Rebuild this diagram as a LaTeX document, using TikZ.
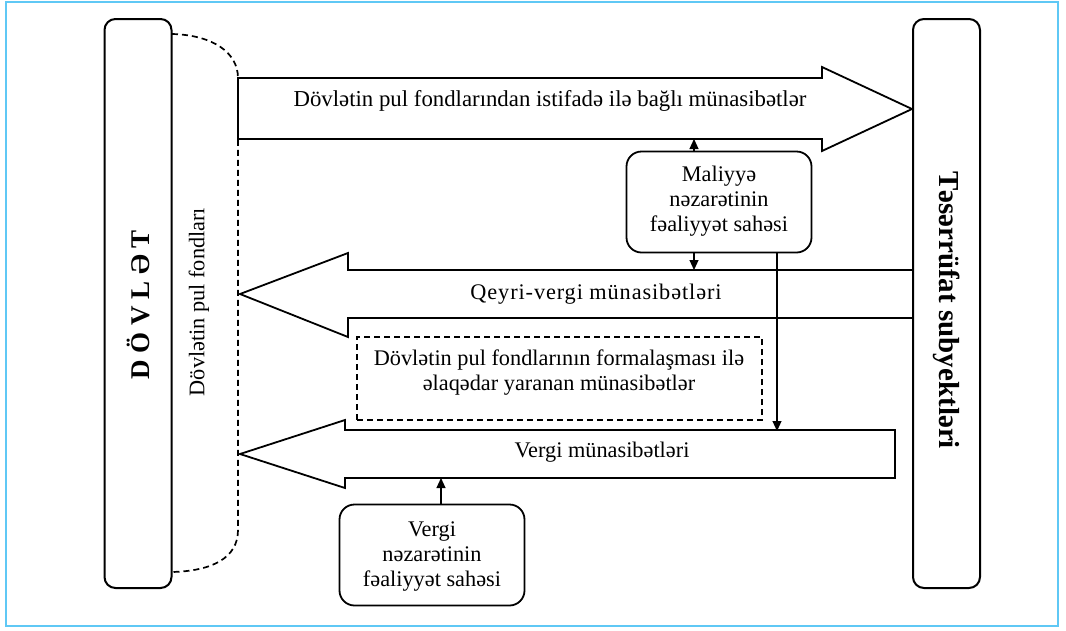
\documentclass[tikz,border=0pt]{standalone}
\usepackage{fontspec}
\setmainfont{Liberation Serif}
\usetikzlibrary{arrows.meta}
\definecolor{framec}{RGB}{95,200,245}
\begin{document}
\begin{tikzpicture}[x=1pt,y=-1pt,
  txt/.style={font=\fontsize{22.3}{25}\selectfont, align=center, inner sep=0pt},
  bold/.style={font=\fontsize{27}{30}\selectfont\bfseries, inner sep=0pt},
  sidebox/.style={draw, line width=2pt, rounded corners=11pt, inner sep=0pt, minimum width=67pt, minimum height=569pt},
  ctrlbox/.style={draw, line width=1.8pt, rounded corners=15pt, inner sep=0pt, minimum width=185pt, minimum height=101pt},
  bigarrow/.style={draw, line width=1.8pt, line join=miter},
  link/.style={line width=1.1pt, -{Triangle[length=10pt,width=9pt]}},
  dashline/.style={line width=1.7pt, dash pattern=on 6pt off 4pt}
]
\useasboundingbox (0,0) rectangle (1066,630);
\draw[framec, line width=1.2pt] (6,2) rectangle (1058,626);

% side boxes
\node[sidebox] (dov) at (138,303.5) {};
\node[bold, rotate=90] (dovt) at (138,305) {D Ö V L Ə T};
\node[sidebox] (tes) at (946.5,303.5) {};
\node[bold, rotate=-90, font=\fontsize{29}{30}\selectfont\bfseries] (test) at (947,310) {Təsərrüfat subyektləri};

% dashed funds bracket
\coordinate (f1) at (172,34);
\coordinate (f2) at (238,78);
\coordinate (f3) at (238,530);
\coordinate (f4) at (172,572);
\draw[dashline] (f1) .. controls (212,35) and (238,52) .. (f2) -- (f3) .. controls (238,558) and (212,571) .. (f4);
\node[txt, rotate=90] (fond) at (199,302) {Dövlətin pul fondları};

% top arrow (to subjects)
\draw[bigarrow] (238,78) -- (822,78) -- (822,67) -- (912,109) -- (822,151) -- (822,139) -- (238,139) -- cycle;
\node[txt, font=\fontsize{22.8}{25}\selectfont] (a1t) at (550,101) {Dövlətin pul fondlarından istifadə ilə bağlı münasibətlər};

% non-tax arrow
\draw[bigarrow] (912,270) -- (348,270) -- (348,253) -- (240,294) -- (348,337) -- (348,318) -- (912,318);
\node[txt, font=\fontsize{22.3}{25}\selectfont\addfontfeature{LetterSpace=4}] (a2t) at (596,294) {Qeyri-vergi münasibətləri};

% formation box
\node[draw, dashline, minimum width=405pt, minimum height=83pt, inner sep=0pt] (form) at (559.5,378.5) {};
\node[txt] (formt) at (559,373) {Dövlətin pul fondlarının formalaşması ilə\\əlaqədar yaranan münasibətlər};

% tax arrow
\draw[bigarrow] (895,430) -- (345,430) -- (345,420) -- (240,454) -- (345,488) -- (345,478) -- (895,478) -- cycle;
\node[txt] (a3t) at (602,452) {Vergi münasibətləri};

% control boxes
\node[ctrlbox] (mal) at (719,202) {};
\node[txt] (malt) at (719,201) {Maliyyə\\nəzarətinin\\fəaliyyət sahəsi};
\node[ctrlbox] (ver) at (432,555) {};
\node[txt] (vert) at (432,557) {Vergi\\nəzarətinin\\fəaliyyət sahəsi};

% links
\coordinate (p1) at (694,139);
\coordinate (p2) at (694,270);
\coordinate (p3) at (777,431);
\coordinate (p4) at (441,478);
\draw[link] (mal.north -| p1) -- (p1);
\draw[link] (mal.south -| p2) -- (p2);
\draw[link] (mal.south -| p3) -- (p3);
\draw[link] (ver.north -| p4) -- (p4);
\end{tikzpicture}
\end{document}
